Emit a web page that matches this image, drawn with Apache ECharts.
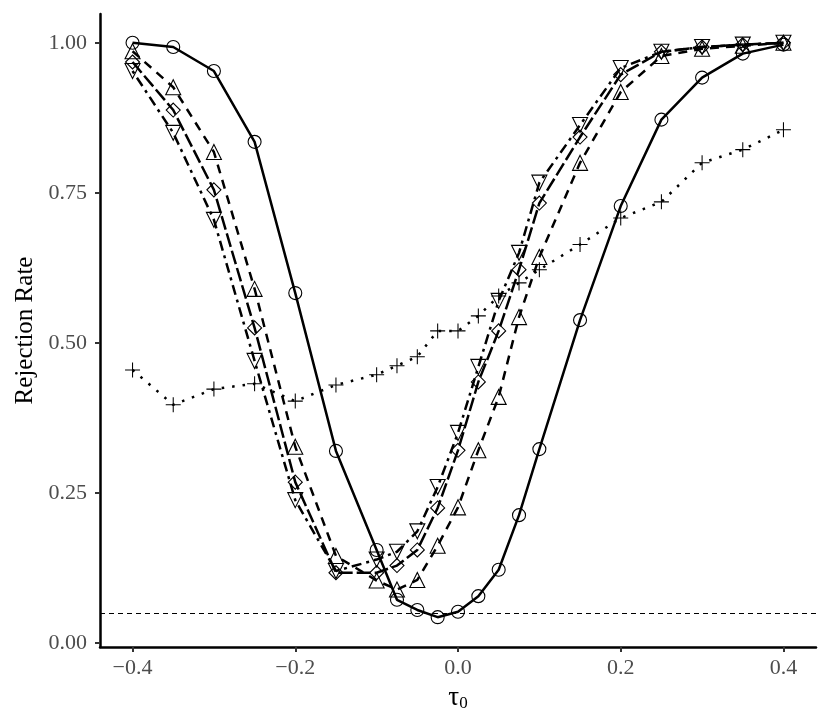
<!DOCTYPE html>
<html style="height: 100%">
  <head>
    <meta charset="UTF-8">
    <script src="https://cdn.jsdelivr.net/npm/echarts@6.0.0/dist/echarts.min.js"></script>
  </head>
  <body style="height: 100%; margin: 0; background: #fff">
    <div id="container" style="width: 830px; height: 727px"></div>
    <script>
    // tau_0 grid used by every series
    var tau = [-0.4, -0.35, -0.3, -0.25, -0.2, -0.15, -0.1, -0.075, -0.05, -0.025, 0,
               0.025, 0.05, 0.075, 0.1, 0.15, 0.2, 0.25, 0.3, 0.35, 0.4];

    var circleRate = [1.0, 0.993, 0.953, 0.835, 0.583, 0.32, 0.155, 0.072, 0.055, 0.043, 0.052,
                      0.078, 0.122, 0.213, 0.323, 0.538, 0.728, 0.872, 0.942, 0.982, 0.997];
    var plusRate = [0.455, 0.397, 0.423, 0.432, 0.403, 0.43, 0.447, 0.462, 0.477, 0.52, 0.52,
                    0.545, 0.578, 0.6, 0.622, 0.664, 0.708, 0.735, 0.8, 0.822, 0.855];
    var triUpRate = [0.986, 0.926, 0.818, 0.59, 0.327, 0.145, 0.104, 0.089, 0.105, 0.162, 0.226,
                     0.321, 0.41, 0.543, 0.643, 0.8, 0.918, 0.978, 0.99, 0.995, 1.0];
    var diamondRate = [0.968, 0.888, 0.755, 0.525, 0.268, 0.117, 0.117, 0.129, 0.155, 0.225, 0.321,
                       0.435, 0.52, 0.622, 0.733, 0.843, 0.947, 0.985, 0.993, 0.997, 1.0];
    var triDownRate = [0.953, 0.85, 0.705, 0.47, 0.238, 0.12, 0.139, 0.152, 0.186, 0.26, 0.35,
                       0.46, 0.57, 0.65, 0.767, 0.863, 0.958, 0.985, 0.993, 0.997, 1.0];

    var xTicks = [-0.4, -0.2, 0, 0.2, 0.4];
    var yTicks = [0, 0.25, 0.5, 0.75, 1.0];
    var nominalLevel = 0.05;

    function pairs(ys) {
      return tau.map(function (x, i) { return [x, ys[i]]; });
    }

    var plusPath = 'path://M-0.07,-1H0.07V-0.07H1V0.07H0.07V1H-0.07V0.07H-1V-0.07H-0.07Z';
    var serif = 'Liberation Serif';

    function mkSeries(name, ys, symbol, size, dash, extra) {
      var s = {
        name: name,
        type: 'line',
        data: pairs(ys),
        symbol: symbol,
        symbolSize: size,
        showSymbol: true,
        lineStyle: { color: '#000', width: 2.5, type: dash },
        itemStyle: { color: 'transparent', borderColor: '#000', borderWidth: 1.1 },
        emphasis: { disabled: true },
        animation: false
      };
      for (var k in extra) s[k] = extra[k];
      return s;
    }

    var series = [
      mkSeries('circle', circleRate, 'circle', 13, 'solid', {
        markLine: {
          silent: true,
          symbol: 'none',
          label: { show: false },
          lineStyle: { color: '#000', width: 1.2, type: [5, 4] },
          data: [{ yAxis: nominalLevel }]
        }
      }),
      mkSeries('plus', plusRate, plusPath, 15, [2.5, 8], {
        itemStyle: { color: '#000', borderWidth: 0 }
      }),
      mkSeries('triangleUp', triUpRate, 'triangle', 15, [9, 7], {}),
      mkSeries('diamond', diamondRate, 'diamond', 14, [14, 4], {}),
      mkSeries('triangleDown', triDownRate, 'triangle', 15, [3, 5, 10, 5], { symbolRotate: 180 })
    ];

    var myChart = echarts.init(document.getElementById('container'), null, { renderer: 'canvas' });

    var option = {
      backgroundColor: '#fff',
      animation: false,
      grid: { left: 100, right: 14, top: 14, bottom: 80, containLabel: false },
      xAxis: {
        type: 'value',
        min: -0.44,
        max: 0.44,
        name: '{t|τ}{s|0}',
        nameLocation: 'middle',
        nameGap: 36,
        nameTextStyle: {
          rich: {
            t: { fontFamily: serif, fontSize: 27, color: '#000' },
            s: { fontFamily: serif, fontSize: 17, color: '#000', verticalAlign: 'bottom', padding: [12, 0, 0, 0] }
          }
        },
        axisLine: { show: true, onZero: false, lineStyle: { color: '#000', width: 2.5 } },
        axisTick: { show: true, length: 5, customValues: xTicks, lineStyle: { color: '#333', width: 2 } },
        axisLabel: {
          customValues: xTicks,
          margin: 10,
          fontFamily: serif,
          fontSize: 22,
          color: '#4d4d4d',
          formatter: function (v) {
            var s = Math.abs(v).toFixed(1);
            return v < 0 ? '\u2212' + s : s;
          }
        },
        splitLine: { show: false }
      },
      yAxis: {
        type: 'value',
        min: -0.0067,
        max: 1.048,
        name: 'Rejection Rate',
        nameLocation: 'middle',
        nameRotate: 90,
        nameGap: 62,
        nameTextStyle: { fontFamily: serif, fontSize: 25, color: '#000' },
        axisLine: { show: true, onZero: false, lineStyle: { color: '#000', width: 2.5 } },
        axisTick: { show: true, length: 5, customValues: yTicks, lineStyle: { color: '#333', width: 2 } },
        axisLabel: {
          customValues: yTicks,
          margin: 13,
          fontFamily: serif,
          fontSize: 22,
          color: '#4d4d4d',
          formatter: function (v) { return v.toFixed(2); }
        },
        splitLine: { show: false }
      },
      series: series
    };

    myChart.setOption(option);
    window.addEventListener('resize', myChart.resize);
    </script>
  </body>
</html>
